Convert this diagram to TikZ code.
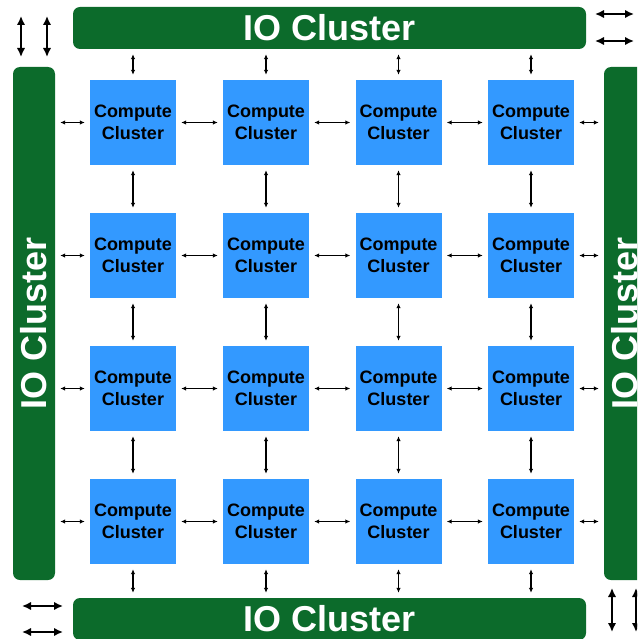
\documentclass[tikz,border=0pt]{standalone}
\usepackage{fontspec}
\setsansfont{Liberation Sans}
\usepackage{xcolor}
\usetikzlibrary{arrows.meta, positioning}

\definecolor{iogreen}{HTML}{0C6B2B}
\definecolor{ccblue}{HTML}{3399FF}

\begin{document}
\begin{tikzpicture}[x=1pt, y=-1pt,
    cluster/.style={rectangle, fill=ccblue, inner sep=0pt, minimum width=86pt, minimum height=85pt, align=center, font=\sffamily\bfseries\fontsize{18}{22}\selectfont},
    iobar/.style={rectangle, rounded corners=7pt, fill=iogreen, inner sep=0pt},
    iotext/.style={text=white, font=\sffamily\bfseries\fontsize{36}{36}\selectfont},
    link/.style={<->, >={Latex[length=5pt, width=4.5pt]}, line width=1.1pt, shorten <=5pt, shorten >=5pt},
    offchip/.style={<->, >={Latex[length=9pt, width=8.5pt]}, line width=2.8pt}]
                    \clip (0, 0) rectangle (637, 639);

                    \node[iobar, iotext, minimum width=513pt, minimum height=42pt] (iotop) at (329.5, 28) {IO Cluster};
                    \node[iobar, iotext, minimum width=513pt, minimum height=42pt] (iobot) at (329.5, 619) {IO Cluster};
                    \node[iobar, minimum width=42pt, minimum height=513pt, label={[iotext, rotate=90]center:IO Cluster}] (ioleft) at (34, 323.5) {};
                    \node[iobar, minimum width=42pt, minimum height=513pt, label={[iotext, rotate=90]center:IO Cluster}] (ioright) at (625, 323.5) {};

                    \node[cluster] (c11) at (133, 122.5) {Compute\\Cluster};
                    \node[cluster] (c21) at (266, 122.5) {Compute\\Cluster};
                    \node[cluster] (c31) at (398.5, 122.5) {Compute\\Cluster};
                    \node[cluster] (c41) at (531, 122.5) {Compute\\Cluster};
                    \node[cluster] (c12) at (133, 255.5) {Compute\\Cluster};
                    \node[cluster] (c22) at (266, 255.5) {Compute\\Cluster};
                    \node[cluster] (c32) at (398.5, 255.5) {Compute\\Cluster};
                    \node[cluster] (c42) at (531, 255.5) {Compute\\Cluster};
                    \node[cluster] (c13) at (133, 388.5) {Compute\\Cluster};
                    \node[cluster] (c23) at (266, 388.5) {Compute\\Cluster};
                    \node[cluster] (c33) at (398.5, 388.5) {Compute\\Cluster};
                    \node[cluster] (c43) at (531, 388.5) {Compute\\Cluster};
                    \node[cluster] (c14) at (133, 521.5) {Compute\\Cluster};
                    \node[cluster] (c24) at (266, 521.5) {Compute\\Cluster};
                    \node[cluster] (c34) at (398.5, 521.5) {Compute\\Cluster};
                    \node[cluster] (c44) at (531, 521.5) {Compute\\Cluster};

                    % mesh links
                    \foreach \a in {1,...,4} {
                        \foreach \b/\c in {1/2, 2/3, 3/4} {
                            \draw[link] (c\b\a) -- (c\c\a);
                            \draw[link] (c\a\b) -- (c\a\c);
                        }
                        \draw[link] (c\a1.north |- iotop.south) -- (c\a1.north);
                        \draw[link] (c\a4.south) -- (c\a4.south |- iobot.north);
                        \draw[link] (ioleft.east |- c1\a.west) -- (c1\a.west);
                        \draw[link] (c4\a.east) -- (ioright.west |- c4\a.east);
                    }

                    % off-chip links
                    \coordinate (tl1) at (21, 16);
                    \coordinate (tl2) at (47, 16);
                    \coordinate (tr1) at (595, 14);
                    \coordinate (tr2) at (595, 41);
                    \coordinate (bl1) at (22, 606);
                    \coordinate (bl2) at (22, 632);
                    \coordinate (br1) at (612, 588);
                    \coordinate (br2) at (636, 588);
                    \draw[offchip] (tl1) -- ++(0, 41);
                    \draw[offchip] (tl2) -- ++(0, 41);
                    \draw[offchip] (tr1) -- ++(39, 0);
                    \draw[offchip] (tr2) -- ++(39, 0);
                    \draw[offchip] (bl1) -- ++(41, 0);
                    \draw[offchip] (bl2) -- ++(41, 0);
                    \draw[offchip] (br1) -- ++(0, 44);
                    \draw[offchip] (br2) -- ++(0, 44);
                \end{tikzpicture}
\end{document}
